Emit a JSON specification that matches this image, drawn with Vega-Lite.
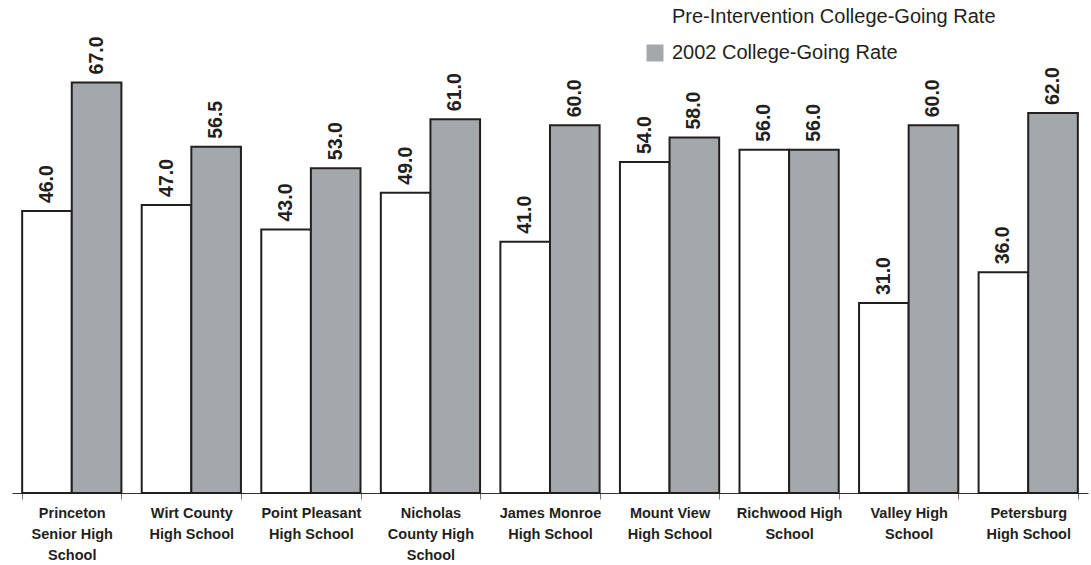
{
  "$schema": "https://vega.github.io/schema/vega-lite/v6.json",
  "autosize": "none",
  "width": 1076,
  "height": 429,
  "padding": {"left": 12, "top": 64, "right": 3, "bottom": 72},
  "background": "white",
  "config": {"view": {"stroke": null}, "font": "Liberation Sans"},
  "data": {"values": [
    {"school": "Princeton Senior High School", "series": "Pre-Intervention College-Going Rate", "value": 46.0},
    {"school": "Princeton Senior High School", "series": "2002 College-Going Rate", "value": 67.0},
    {"school": "Wirt County High School", "series": "Pre-Intervention College-Going Rate", "value": 47.0},
    {"school": "Wirt County High School", "series": "2002 College-Going Rate", "value": 56.5},
    {"school": "Point Pleasant High School", "series": "Pre-Intervention College-Going Rate", "value": 43.0},
    {"school": "Point Pleasant High School", "series": "2002 College-Going Rate", "value": 53.0},
    {"school": "Nicholas County High School", "series": "Pre-Intervention College-Going Rate", "value": 49.0},
    {"school": "Nicholas County High School", "series": "2002 College-Going Rate", "value": 61.0},
    {"school": "James Monroe High School", "series": "Pre-Intervention College-Going Rate", "value": 41.0},
    {"school": "James Monroe High School", "series": "2002 College-Going Rate", "value": 60.0},
    {"school": "Mount View High School", "series": "Pre-Intervention College-Going Rate", "value": 54.0},
    {"school": "Mount View High School", "series": "2002 College-Going Rate", "value": 58.0},
    {"school": "Richwood High School", "series": "Pre-Intervention College-Going Rate", "value": 56.0},
    {"school": "Richwood High School", "series": "2002 College-Going Rate", "value": 56.0},
    {"school": "Valley High School", "series": "Pre-Intervention College-Going Rate", "value": 31.0},
    {"school": "Valley High School", "series": "2002 College-Going Rate", "value": 60.0},
    {"school": "Petersburg High School", "series": "Pre-Intervention College-Going Rate", "value": 36.0},
    {"school": "Petersburg High School", "series": "2002 College-Going Rate", "value": 62.0}
  ]},
  "encoding": {
    "x": {
      "field": "school", "type": "nominal", "sort": null,
      "scale": {"paddingInner": 0.17, "paddingOuter": 0.085},
      "axis": {
        "title": null, "labelAngle": 0, "labelFontSize": 14.5, "labelFontWeight": "bold",
        "labelColor": "#231f20", "labelLineHeight": 21, "labelPadding": 7,
        "tickBand": "extent", "tickSize": 6, "tickColor": "#777", "domainColor": "#333",
        "domainWidth": 1.2, "labelLimit": 200,
        "labelExpr": "datum.label == 'Princeton Senior High School' ? ['Princeton','Senior High','School'] : datum.label == 'Wirt County High School' ? ['Wirt County','High School'] : datum.label == 'Point Pleasant High School' ? ['Point Pleasant','High School'] : datum.label == 'Nicholas County High School' ? ['Nicholas','County High','School'] : datum.label == 'James Monroe High School' ? ['James Monroe','High School'] : datum.label == 'Mount View High School' ? ['Mount View','High School'] : datum.label == 'Richwood High School' ? ['Richwood High','School'] : datum.label == 'Valley High School' ? ['Valley High','School'] : datum.label == 'Petersburg High School' ? ['Petersburg','High School'] : ''"
      }
    },
    "xOffset": {
      "field": "series", "type": "nominal",
      "sort": ["Pre-Intervention College-Going Rate", "2002 College-Going Rate"],
      "scale": {"paddingInner": 0, "paddingOuter": 0}
    },
    "y": {
      "field": "value", "type": "quantitative",
      "scale": {"domain": [0, 70], "nice": false},
      "axis": null
    }
  },
  "layer": [
    {
      "mark": {"type": "bar", "stroke": "#231f20", "strokeWidth": 2},
      "encoding": {
        "fill": {
          "field": "series", "type": "nominal",
          "sort": ["Pre-Intervention College-Going Rate", "2002 College-Going Rate"],
          "scale": {"domain": ["Pre-Intervention College-Going Rate", "2002 College-Going Rate"], "range": ["#ffffff", "#a5a8ab"]},
          "legend": {
            "title": null, "orient": "none", "legendX": 633, "legendY": -57,
            "symbolType": "square", "symbolSize": 289, "symbolStrokeWidth": 0,
            "labelFontSize": 20, "labelColor": "#231f20", "rowPadding": 16,
            "labelOffset": 7, "labelLimit": 400
          }
        }
      }
    },
    {
      "mark": {"type": "text", "angle": 270, "align": "left", "baseline": "middle", "dx": 8, "fontSize": 19.5, "fontWeight": "bold", "color": "#231f20"},
      "encoding": {
        "text": {"field": "value", "type": "quantitative", "format": ".1f"}
      }
    }
  ]
}
